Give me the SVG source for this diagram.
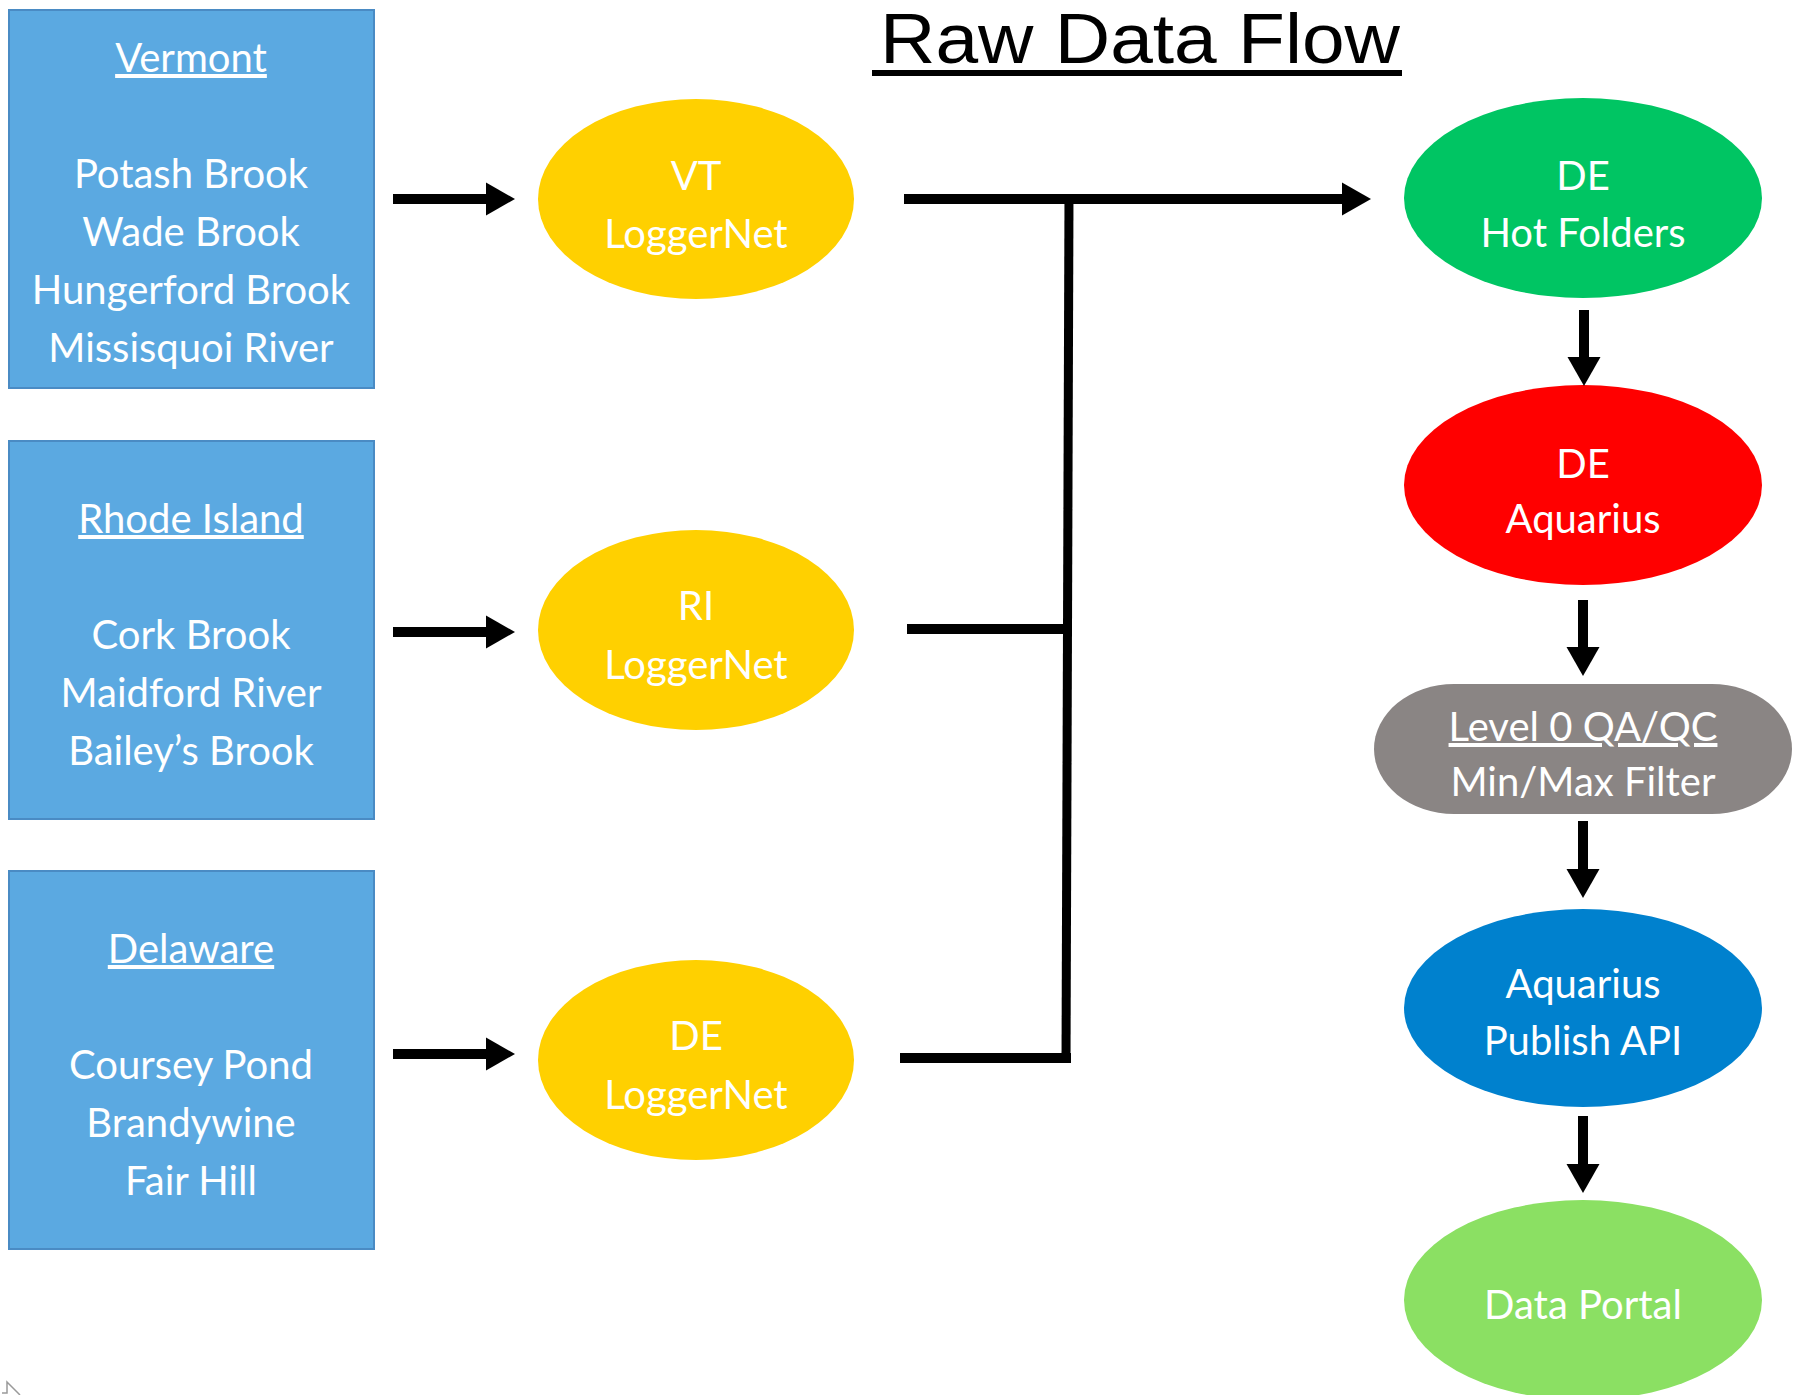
<svg xmlns="http://www.w3.org/2000/svg" width="1804" height="1395" viewBox="0 0 1804 1395">
<style>
.t{font-family:Lato,"Liberation Sans",sans-serif;font-size:40px;fill:#fff;text-anchor:middle}
.u{text-decoration:underline}
.box{fill:#5BA9E1;stroke:#4A8BC4;stroke-width:2}
.ln{stroke:#000;stroke-width:10;fill:none}
.title{font-family:"Liberation Sans",Arial,sans-serif;font-size:70px;fill:#000;text-anchor:middle}
</style>
<defs>
<marker id="ah" markerUnits="userSpaceOnUse" markerWidth="30" markerHeight="34" refX="9" refY="16.5" orient="auto" overflow="visible">
<path d="M0,0 L29,16.5 L0,33 z" fill="#000"/>
</marker>
</defs>
<rect width="1804" height="1395" fill="#fff"/>
<g id="title">
<text class="title" x="1140" y="63" textLength="520" lengthAdjust="spacingAndGlyphs">Raw Data Flow</text>
<rect x="872" y="70" width="530" height="6" fill="#000"/>
</g>
<g id="vermont">
<rect class="box" x="9" y="10" width="365" height="378"/>
<text class="t u" x="191" y="72">Vermont</text>
<text class="t" x="191" y="188">Potash Brook</text>
<text class="t" x="191" y="246">Wade Brook</text>
<text class="t" x="191" y="304">Hungerford Brook</text>
<text class="t" x="191" y="362">Missisquoi River</text>
</g>
<g id="rhode-island">
<rect class="box" x="9" y="441" width="365" height="378"/>
<text class="t u" x="191" y="533">Rhode Island</text>
<text class="t" x="191" y="649">Cork Brook</text>
<text class="t" x="191" y="707">Maidford River</text>
<text class="t" x="191" y="765">Bailey’s Brook</text>
</g>
<g id="delaware">
<rect class="box" x="9" y="871" width="365" height="378"/>
<text class="t u" x="191" y="963">Delaware</text>
<text class="t" x="191" y="1079">Coursey Pond</text>
<text class="t" x="191" y="1137">Brandywine</text>
<text class="t" x="191" y="1195">Fair Hill</text>
</g>
<g id="vt-loggernet">
<ellipse cx="696" cy="199" rx="158" ry="100" fill="#FFD000"/>
<text class="t" x="696" y="190">VT</text>
<text class="t" x="696" y="248">LoggerNet</text>
</g>
<g id="ri-loggernet">
<ellipse cx="696" cy="630" rx="158" ry="100" fill="#FFD000"/>
<text class="t" x="696" y="620">RI</text>
<text class="t" x="696" y="679">LoggerNet</text>
</g>
<g id="de-loggernet">
<ellipse cx="696" cy="1060" rx="158" ry="100" fill="#FFD000"/>
<text class="t" x="696" y="1050">DE</text>
<text class="t" x="696" y="1109">LoggerNet</text>
</g>
<g id="de-hot-folders">
<ellipse cx="1583" cy="198" rx="179" ry="100" fill="#00C563"/>
<text class="t" x="1583" y="190">DE</text>
<text class="t" x="1583" y="247">Hot Folders</text>
</g>
<g id="de-aquarius">
<ellipse cx="1583" cy="485" rx="179" ry="100" fill="#FF0000"/>
<text class="t" x="1583" y="478">DE</text>
<text class="t" x="1583" y="533">Aquarius</text>
</g>
<g id="level0-qaqc">
<rect x="1374" y="684" width="418" height="130" rx="80" ry="65" fill="#8A8584"/>
<text class="t u" x="1583" y="741">Level 0 QA/QC</text>
<text class="t" x="1583" y="796">Min/Max Filter</text>
</g>
<g id="aquarius-publish-api">
<ellipse cx="1583" cy="1008" rx="179" ry="99" fill="#0081CE"/>
<text class="t" x="1583" y="998">Aquarius</text>
<text class="t" x="1583" y="1055">Publish API</text>
</g>
<g id="data-portal">
<ellipse cx="1583" cy="1300" rx="179" ry="100" fill="#8BE063"/>
<text class="t" x="1583" y="1319">Data Portal</text>
</g>
<g id="connectors">
<line class="ln" x1="393" y1="199" x2="495" y2="199" marker-end="url(#ah)"/>
<line class="ln" x1="393" y1="632" x2="495" y2="632" marker-end="url(#ah)"/>
<line class="ln" x1="393" y1="1054" x2="495" y2="1054" marker-end="url(#ah)"/>
<line class="ln" x1="904" y1="199" x2="1351" y2="199" marker-end="url(#ah)"/>
<line class="ln" x1="907" y1="629" x2="1069" y2="629"/>
<line class="ln" x1="900" y1="1058" x2="1071" y2="1058"/>
<line class="ln" style="stroke-width:9" x1="1069" y1="194" x2="1066" y2="1063"/>
<line class="ln" x1="1584" y1="310" x2="1584" y2="366" marker-end="url(#ah)"/>
<line class="ln" x1="1583" y1="600" x2="1583" y2="656" marker-end="url(#ah)"/>
<line class="ln" x1="1583" y1="821" x2="1583" y2="878" marker-end="url(#ah)"/>
<line class="ln" x1="1583" y1="1116" x2="1583" y2="1173" marker-end="url(#ah)"/>
</g>
<path d="M2 1393 L7 1393 L7 1382 L20 1395" fill="none" stroke="#9a9a9a" stroke-width="1.5"/>
</svg>
